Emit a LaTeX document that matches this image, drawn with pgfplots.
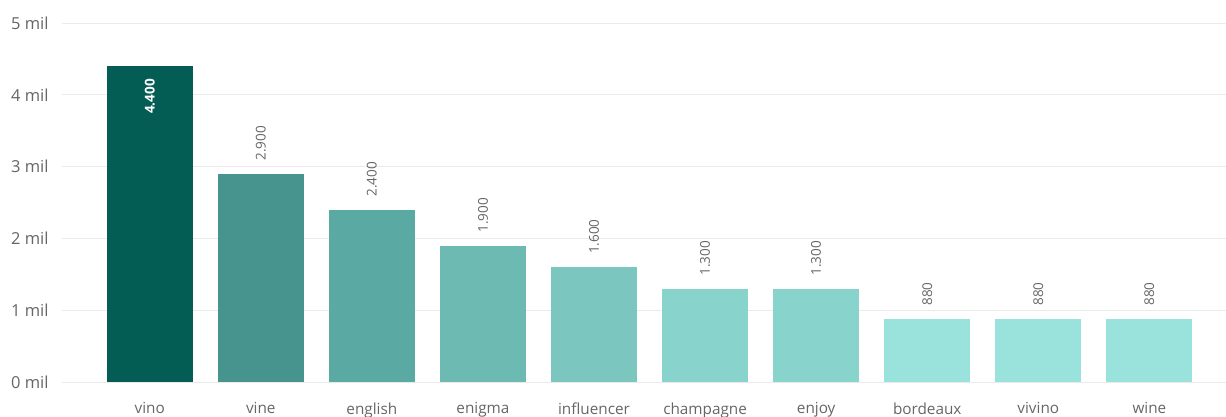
\documentclass[border=0pt]{standalone}
\usepackage{pgfplots}
\pgfplotsset{compat=1.18}
\usepackage{fontspec}
\setmainfont{Open Sans}
\definecolor{c1}{HTML}{045D54}
\definecolor{c2}{HTML}{46948D}
\definecolor{c3}{HTML}{5AA9A2}
\definecolor{c4}{HTML}{6CBAB2}
\definecolor{c5}{HTML}{7BC7C0}
\definecolor{c6}{HTML}{88D4CD}
\definecolor{c7}{HTML}{9AE3DC}
\definecolor{txt}{HTML}{666666}
\definecolor{gridc}{HTML}{EAEAEA}
\begin{document}
\begin{tikzpicture}
\begin{axis}[
  at={(0,0)}, anchor=south west,
  scale only axis,
  width=1164pt, height=359pt,
  xmin=-0.79, xmax=9.69,
  ymin=0, ymax=5,
  ytick={0,1,2,3,4,5},
  yticklabel={\pgfmathprintnumber{\tick} mil},
  yticklabel style={font=\fontsize{16.5}{18}\selectfont, text=txt, xshift=-10pt},
  xtick={0,...,9},
  xticklabels={vino,vine,english,enigma,influencer,champagne,enjoy,bordeaux,vivino,wine},
  xticklabel style={font=\fontsize{15.3}{17}\selectfont, text=txt, yshift=-17pt},
  /pgf/number format/assume math mode=true,
  major tick length=0pt,
  axis line style={draw=none},
  ymajorgrids, xmajorgrids=false, grid style={draw=gridc, line width=1pt},
  ybar, bar width=86pt, bar shift=0pt,
  point meta=explicit symbolic,
  nodes near coords,
  every node near coord/.style={font=\fontsize{13.5}{15}\selectfont, text=txt, rotate=90, anchor=west, inner sep=0pt, xshift=13pt},
  clip=false,
]
\addplot[fill=c1, draw=none, every node near coord/.style={font=\fontsize{13.5}{15}\selectfont\bfseries, text=white, rotate=90, anchor=east, inner sep=0pt, xshift=-13pt}] coordinates {(0,4.4) [4.400]};
\addplot[fill=c2, draw=none] coordinates {(1,2.9) [2.900]};
\addplot[fill=c3, draw=none] coordinates {(2,2.4) [2.400]};
\addplot[fill=c4, draw=none] coordinates {(3,1.9) [1.900]};
\addplot[fill=c5, draw=none] coordinates {(4,1.6) [1.600]};
\addplot[fill=c6, draw=none] coordinates {(5,1.3) [1.300]};
\addplot[fill=c6, draw=none] coordinates {(6,1.3) [1.300]};
\addplot[fill=c7, draw=none] coordinates {(7,0.88) [880]};
\addplot[fill=c7, draw=none] coordinates {(8,0.88) [880]};
\addplot[fill=c7, draw=none] coordinates {(9,0.88) [880]};
\end{axis}
\pgfresetboundingbox
\path[use as bounding box] (-62pt,-34pt) rectangle (1164pt,382pt);
\end{tikzpicture}
\end{document}
